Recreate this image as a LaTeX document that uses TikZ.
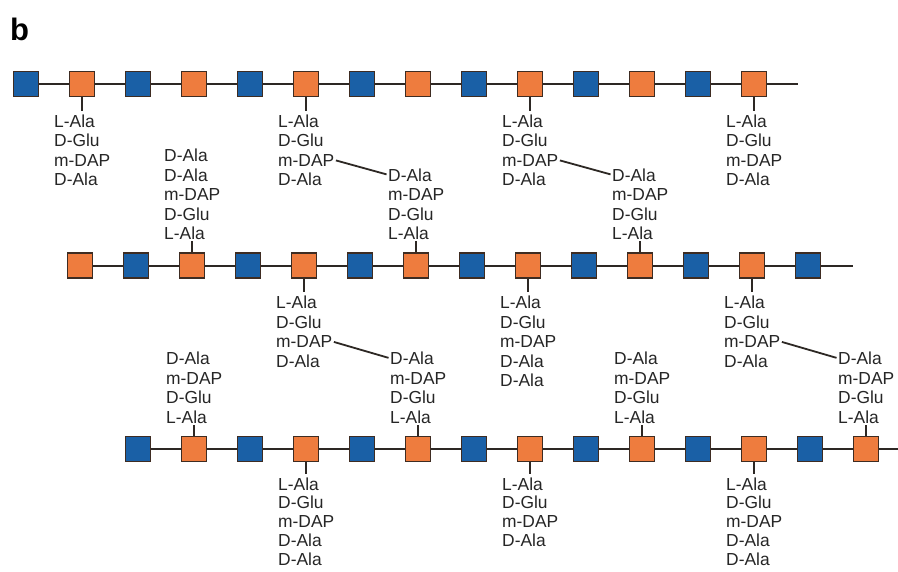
\documentclass[tikz,border=0pt]{standalone}
\usepackage{fontspec}
\setmainfont{Liberation Sans}
\definecolor{blueC}{RGB}{26,96,166}
\definecolor{orangeC}{RGB}{238,124,62}
\definecolor{edgeC}{RGB}{62,44,34}
\definecolor{lineC}{RGB}{45,40,36}
\definecolor{textC}{RGB}{38,38,38}
\tikzset{
  sq/.style={draw=edgeC, line width=1.6pt, minimum size=25pt, inner sep=0pt},
  bb/.style={draw=lineC, line width=2pt},
  pep/.style={anchor=base west, inner sep=0pt, text=textC, font=\fontsize{17.4}{19.5}\selectfont},
  tick/.style={draw=lineC, line width=2pt},
  xlink/.style={draw=lineC, line width=1.8pt, shorten <=1.5pt, shorten >=1.5pt},
}
% #1 square, #2 row y, #3 x, #4 first-baseline offset, #5 line step, #6 list
\newcommand\pepdn[6]{%
  \foreach \lbl [count=\i] in {#6} {\node[pep] (#1p-\i) at ({#3-28},{#2+#4+#5*(\i-1)}) {\lbl};}
  \draw[tick, shorten >=3.5pt] (#1.south) -- (#1.south |- #1p-1.north);}
\newcommand\pepup[5]{%
  \foreach \lbl [count=\i] in {#5} {\node[pep] (#1p-\i) at ({#3-28},{#2-26-19.5*(#4-\i)}) {\lbl};}
  \draw[tick, shorten >=1.5pt] (#1.north) -- (#1.north |- #1p-#4.south);}
\begin{document}
\begin{tikzpicture}[x=1pt,y=-1pt]
\fill[white] (0,0) rectangle (898,571);
\useasboundingbox (0,0) rectangle (898,571);
\node[anchor=base west, inner sep=0pt, text=black, font=\bfseries\fontsize{31}{31}\selectfont] (lab) at (10,40) {b};
% squares
\foreach \k in {0,...,13} {\ifodd\k\relax\def\fc{orangeC}\else\def\fc{blueC}\fi
  \node[sq, fill=\fc] (r1s\k) at ({26+56*\k},84) {};}
\foreach \k in {0,...,13} {\ifodd\k\relax\def\fc{blueC}\else\def\fc{orangeC}\fi
  \node[sq, fill=\fc] (r2s\k) at ({80+56*\k},265.5) {};}
\foreach \k in {0,...,13} {\ifodd\k\relax\def\fc{orangeC}\else\def\fc{blueC}\fi
  \node[sq, fill=\fc] (r3s\k) at ({138+56*\k},449) {};}
% backbones
\foreach \k [evaluate=\k as \n using int(\k+1)] in {0,...,12} {
  \draw[bb] (r1s\k.east) -- (r1s\n.west);
  \draw[bb] (r2s\k.east) -- (r2s\n.west);
  \draw[bb] (r3s\k.east) -- (r3s\n.west);}
\coordinate (r1end) at (798,84);
\coordinate (r2end) at (853,265.5);
\coordinate (r3end) at (898,449);
\draw[bb] (r1s13.east) -- (r1end);
\draw[bb] (r2s13.east) -- (r2end);
\draw[bb] (r3s13.east) -- (r3end);
% row 1 peptides
\pepdn{r1s1}{84}{82}{43}{19.5}{L-Ala,D-Glu,m-DAP,D-Ala}
\pepdn{r1s5}{84}{306}{43}{19.5}{L-Ala,D-Glu,m-DAP,D-Ala}
\pepdn{r1s9}{84}{530}{43}{19.5}{L-Ala,D-Glu,m-DAP,D-Ala}
\pepdn{r1s13}{84}{754}{43}{19.5}{L-Ala,D-Glu,m-DAP,D-Ala}
% row 2 peptides
\pepup{r2s2}{265.5}{192}{5}{D-Ala,D-Ala,m-DAP,D-Glu,L-Ala}
\pepup{r2s6}{265.5}{416}{4}{D-Ala,m-DAP,D-Glu,L-Ala}
\pepup{r2s10}{265.5}{640}{4}{D-Ala,m-DAP,D-Glu,L-Ala}
\pepdn{r2s4}{265.5}{304}{43}{19.5}{L-Ala,D-Glu,m-DAP,D-Ala}
\pepdn{r2s8}{265.5}{528}{43}{19.5}{L-Ala,D-Glu,m-DAP,D-Ala,D-Ala}
\pepdn{r2s12}{265.5}{752}{43}{19.5}{L-Ala,D-Glu,m-DAP,D-Ala}
% row 3 peptides
\pepup{r3s1}{449}{194}{4}{D-Ala,m-DAP,D-Glu,L-Ala}
\pepup{r3s5}{449}{418}{4}{D-Ala,m-DAP,D-Glu,L-Ala}
\pepup{r3s9}{449}{642}{4}{D-Ala,m-DAP,D-Glu,L-Ala}
\pepup{r3s13}{449}{866}{4}{D-Ala,m-DAP,D-Glu,L-Ala}
\pepdn{r3s3}{449}{306}{41}{18.9}{L-Ala,D-Glu,m-DAP,D-Ala,D-Ala}
\pepdn{r3s7}{449}{530}{41}{18.9}{L-Ala,D-Glu,m-DAP,D-Ala}
\pepdn{r3s11}{449}{754}{41}{18.9}{L-Ala,D-Glu,m-DAP,D-Ala,D-Ala}
% cross-links
\draw[xlink] (r1s5p-3.east) -- (r2s6p-1.west);
\draw[xlink] (r1s9p-3.east) -- (r2s10p-1.west);
\draw[xlink] (r2s4p-3.east) -- (r3s5p-1.west);
\draw[xlink] (r2s12p-3.east) -- (r3s13p-1.west);
\end{tikzpicture}
\end{document}
